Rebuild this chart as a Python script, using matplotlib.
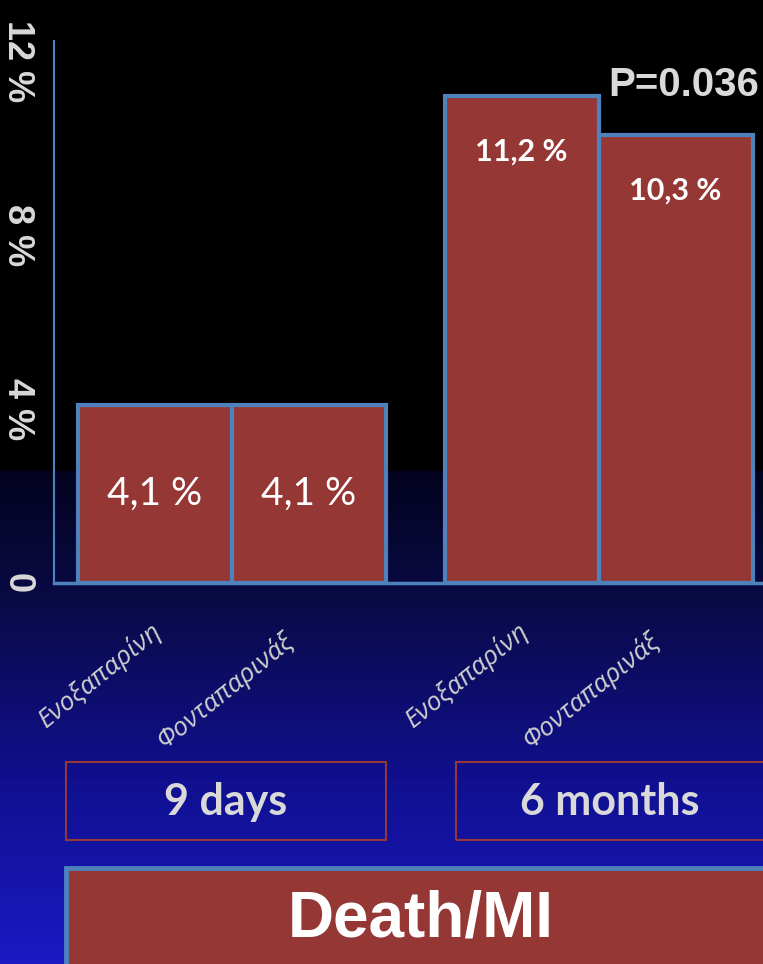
import numpy as np
import matplotlib
matplotlib.use("Agg")
import matplotlib.pyplot as plt
from matplotlib.patches import Rectangle
from matplotlib.colors import LinearSegmentedColormap
import matplotlib.transforms as mtrans

# data
groups = ["9 days", "6 months"]
drugs = ["Ενοξαπαρίνη", "Φονταπαρινάξ"]
values = [[4.1, 4.1], [11.2, 10.3]]
value_labels = [["4,1 %", "4,1 %"], ["11,2 %", "10,3 %"]]
p_text = "P=0.036"
y_ticks = [0, 4, 8, 12]
y_ticklabels = ["0", "4 %", "8 %", "12 %"]
outcome = "Death/MI"

bar_red = "#953735"
edge_blue = "#4f81bd"
light = "#d9d9d9"

W, H = 763, 964
fig = plt.figure(figsize=(W / 100, H / 100), dpi=100)

# background gradient (black top, blue bottom)
bg = fig.add_axes([0, 0, 1, 1], zorder=-10)
stops = [(0.0, "#1a1ac4"), (0.19, "#10108f"), (0.38, "#0a0a45"),
         (0.51, "#03031f"), (0.512, "#000000"), (1.0, "#000000")]
cmap = LinearSegmentedColormap.from_list("bg", stops)
grad = np.linspace(0, 1, 600).reshape(-1, 1)
bg.imshow(grad, aspect="auto", cmap=cmap, origin="lower", extent=[0, 1, 0, 1])
bg.axis("off")

# main axes
ax = fig.add_axes([54 / W, (H - 583) / H, (W - 54) / W, 553 / H])
ax.patch.set_alpha(0)
ax.set_xlim(-0.156, 4.448)
ax.set_ylim(0, 553 / 43.5)

tr = mtrans.blended_transform_factory(ax.transData, fig.transFigure)
gap = 0.38
for g, grp in enumerate(groups):
    for d, drug in enumerate(drugs):
        x = g * (2 + gap) + d + 0.5
        v = values[g][d]
        ax.bar(x, v, width=1.0, color=bar_red, edgecolor=edge_blue,
               linewidth=3, zorder=3)
        if v < 6:
            ax.text(x, v / 2, value_labels[g][d], ha="center", va="center",
                    color="white", fontsize=28, family=["Lato", "DejaVu Sans"],
                    zorder=4)
        else:
            ax.annotate(value_labels[g][d], (x, v), xytext=(0, -40),
                        textcoords="offset points", ha="center", va="center",
                        color="white", fontsize=22, fontweight="bold",
                        family=["Lato", "DejaVu Sans"], zorder=4)
        # rotated drug names under the bars
        ax.text(x + (0.08 if d == 0 else -0.07), (H - 617 - 10 * d) / H, drug,
                transform=tr, rotation=39, ha="right", va="top",
                color="#d0d0d0", fontsize=19, style="italic",
                family=["Open Sans", "Noto Sans", "DejaVu Sans"])

# p-value next to the 6 month bars
ax.text(1 * (2 + gap) + 1.55, 11.45, p_text, ha="center", va="center",
        color=light, fontsize=29, fontweight="bold",
        family=["Liberation Sans", "DejaVu Sans"], zorder=5)

ax.set_yticks(y_ticks)
ax.set_yticklabels(y_ticklabels, rotation=270, va="center", ha="right",
                   color=light, fontsize=26, fontweight="bold",
                   family=["Liberation Sans", "DejaVu Sans"])
ax.tick_params(axis="y", length=0, pad=14)
ax.set_xticks([])
for s in ["top", "right"]:
    ax.spines[s].set_visible(False)
ax.spines["left"].set_color(edge_blue)
ax.spines["left"].set_linewidth(1.5)
ax.spines["left"].set_bounds(0, 12.45)
ax.spines["bottom"].set_color(edge_blue)
ax.spines["bottom"].set_linewidth(2.5)

# group boxes
box_x = [(66, 386), (456, 775)]
label_x = [226, 610]
for g, grp in enumerate(groups):
    x0, x1 = box_x[g]
    fig.patches.append(Rectangle((x0 / W, (H - 840) / H), (x1 - x0) / W, 78 / H,
                                 transform=fig.transFigure, fill=False,
                                 edgecolor=bar_red, linewidth=1.5))
    fig.text(label_x[g] / W, (H - 802) / H, grp, ha="center", va="center",
             color=light, fontsize=31, fontweight="bold",
             family=["Lato", "DejaVu Sans"])

# outcome banner
fig.patches.append(Rectangle((66 / W, -10 / H), 720 / W, (H - 868 + 10) / H,
                             transform=fig.transFigure, facecolor=bar_red,
                             edgecolor=edge_blue, linewidth=3.5))
fig.text(421 / W, (H - 920) / H, outcome, ha="center", va="center",
         color="white", fontsize=46, fontweight="bold",
         family=["Liberation Sans", "DejaVu Sans"])

fig.savefig("out.png", dpi=100)
